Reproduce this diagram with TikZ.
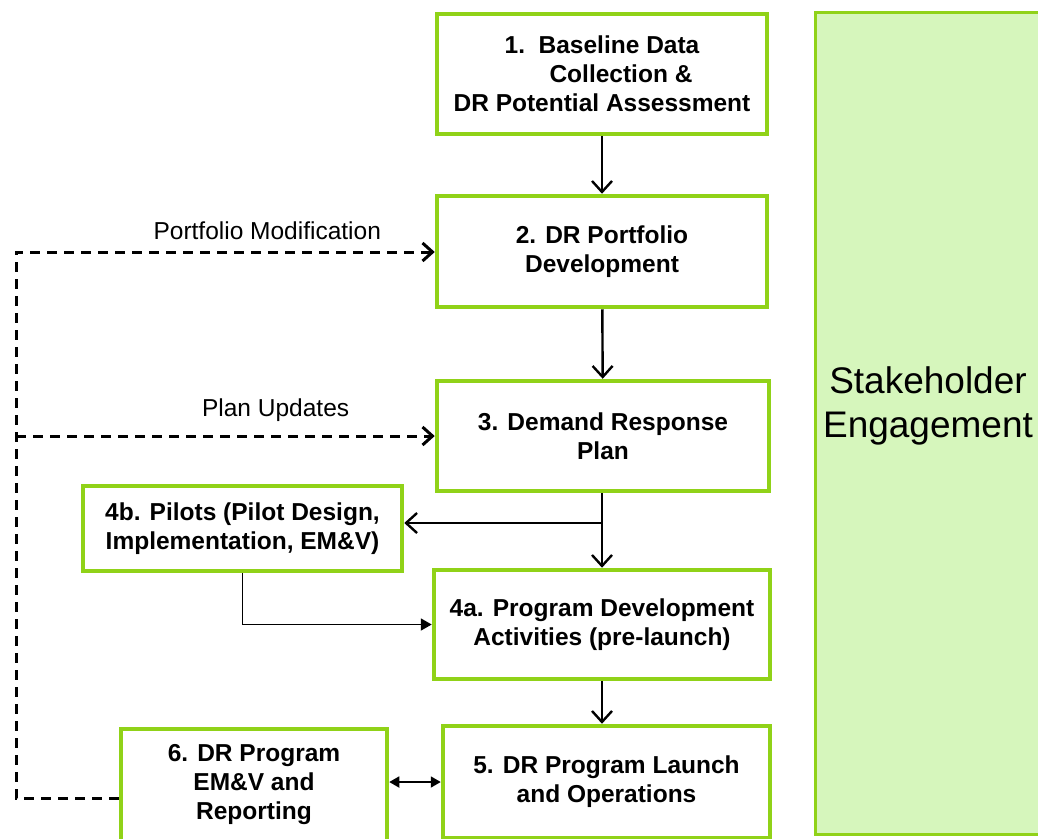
\documentclass[tikz,border=0pt]{standalone}
\usepackage{fontspec}
\setmainfont{Liberation Sans}
\usetikzlibrary{arrows.meta}
\definecolor{leaf}{RGB}{144,210,24}
\definecolor{leaflight}{RGB}{214,246,188}
\newcommand{\phasefont}{\fontsize{24.5}{29}\selectfont\bfseries}
\newcommand{\notefont}{\fontsize{24.5}{29}\selectfont}
\begin{document}
\begin{tikzpicture}
    [x=1pt,y=-1pt,inner sep=0pt,
     phase/.style={rectangle,draw=leaf,line width=4.5pt,align=center,font=\phasefont},
     flow/.style={-{Straight Barb[length=11pt,width=20pt]},line width=2.4pt},
     link/.style={-{Triangle[length=11pt,width=12pt]},line width=1.8pt},
     twoway/.style={{Triangle[length=10pt,width=11pt]}-{Triangle[length=10pt,width=11pt]},line width=1.8pt},
     feedback/.style={-{Straight Barb[length=10pt,width=18pt]},line width=3pt,dash pattern=on 10pt off 7pt},
     note/.style={font=\notefont}]
    \useasboundingbox (0,0) rectangle (1038,838);
    \node (stake) at (930, 423) [draw=leaf,fill=leaflight,line width=3pt,minimum width=230pt,minimum height=822pt] {};
    \node (stakelabel) at (928, 406) [align=center,font=\fontsize{37}{44}\selectfont] {Stakeholder\\Engagement};
    \node (box1) at (602, 74) [phase,minimum width=330pt,minimum height=120pt] {1.\ \ Baseline Data\\\hspace*{38pt}Collection \&\\DR Potential Assessment};
    \node (box2) at (602, 251.5) [phase,minimum width=330pt,minimum height=111pt] {2. DR Portfolio\\Development};
    \node (box3) at (603, 436) [phase,minimum width=332pt,minimum height=110pt] {3. Demand Response\\Plan};
    \node (box4b) at (242.5, 528.5) [phase,minimum width=319pt,minimum height=85pt] {4b. Pilots (Pilot Design,\\Implementation, EM\&V)};
    \node (box4a) at (602, 624.5) [phase,minimum width=336pt,minimum height=109pt] {4a. Program Development\\Activities (pre-launch)};
    \node (box5) at (606.5, 782) [phase,minimum width=327pt,minimum height=112pt] {5. DR Program Launch\\and Operations};
    \node (box6) at (254, 785) [phase,minimum width=266pt,minimum height=112pt] {6. DR Program\\EM\&V and\\Reporting};
    \coordinate (split) at (602, 523);
    \coordinate (loopbot) at (16, 798);
    \coordinate (looptop) at (16, 252);
    \draw [flow] (box1) to (box2);
    \draw [flow] (box2) to (box3);
    \draw [line width=2.4pt] (box3.south -| split) to (split);
    \draw [flow] (split) to (box4a.north -| split);
    \draw [flow] (split) to (split -| box4b.east);
    \draw [link] (box4b.south) |- (box4a.west);
    \draw [flow] (box4a.south) to (box5.north -| box4a.south);
    \draw [twoway] (box6.east |- box5.west) to (box5.west);
    \draw [feedback] (box6.west |- loopbot) -- (loopbot) -- (looptop) -- node [note,above=11pt,pos=0.6] {Portfolio Modification} (box2.west |- looptop);
    \draw [feedback] (looptop |- box3.west) -- node [note,above=13pt,pos=0.62] {Plan Updates} (box3.west);
\end{tikzpicture}
\end{document}
